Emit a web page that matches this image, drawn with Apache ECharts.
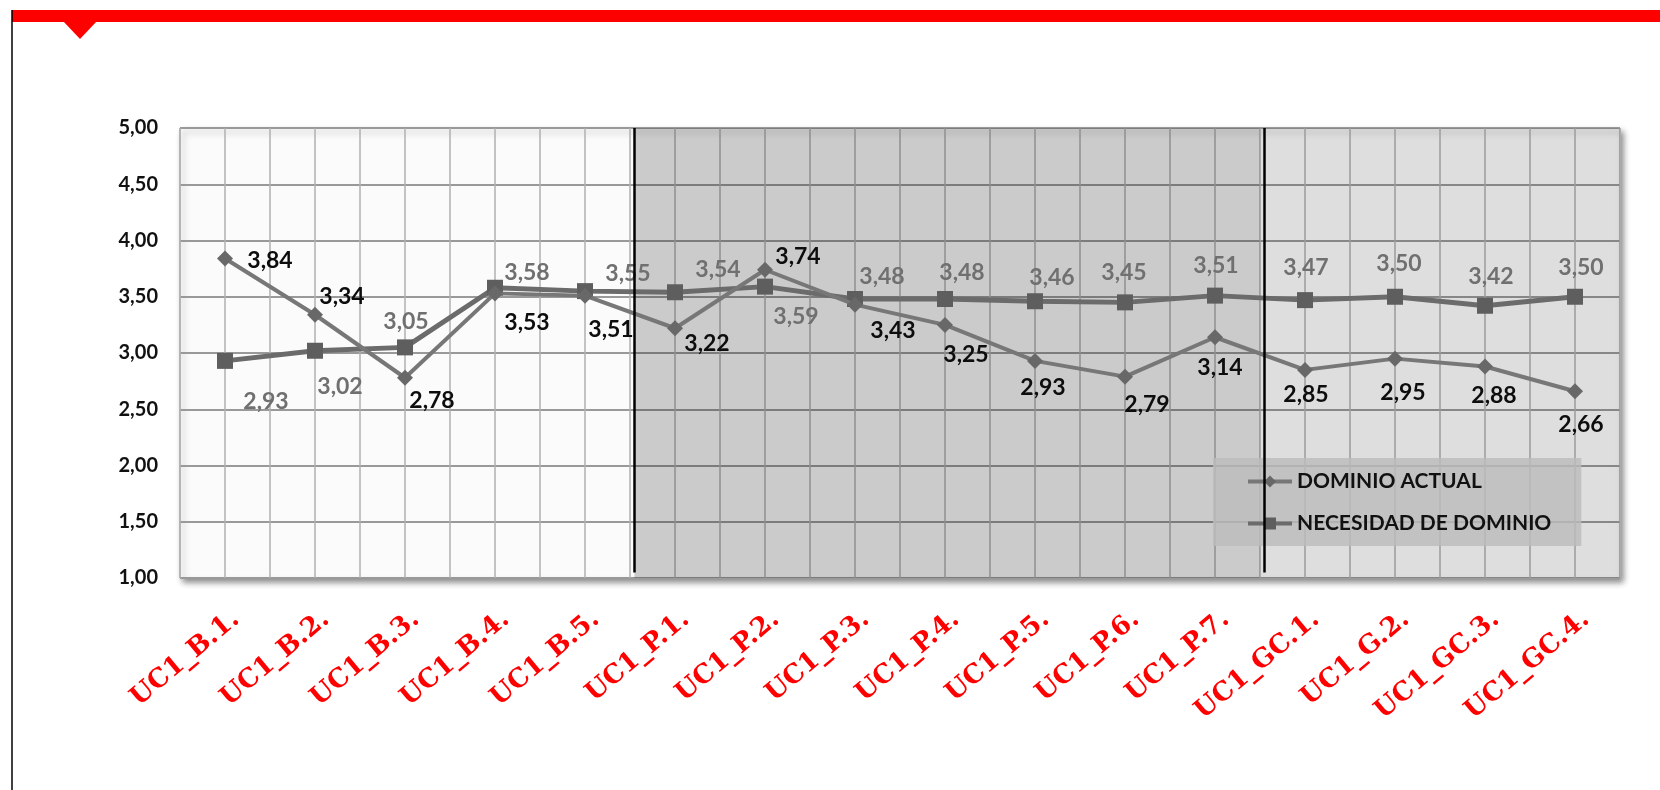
<!DOCTYPE html>
<html>
<head>
<meta charset="utf-8">
<title>Dominio actual / necesidad de dominio</title>
<script src="https://cdn.jsdelivr.net/npm/echarts@6/dist/echarts.min.js"></script>
<style>
  html, body { margin: 0; padding: 0; background: #fff; }
  #chart { width: 1660px; height: 790px; }
</style>
</head>
<body>
<div id="chart"></div>
<script>
const categories = ['UC1_B.1.', 'UC1_B.2.', 'UC1_B.3.', 'UC1_B.4.', 'UC1_B.5.', 'UC1_P.1.', 'UC1_P.2.', 'UC1_P.3.',
  'UC1_P.4.', 'UC1_P.5.', 'UC1_P.6.', 'UC1_P.7.', 'UC1_GC.1.', 'UC1_G.2.', 'UC1_GC.3.', 'UC1_GC.4.'];
const dominioActual = [3.84, 3.34, 2.78, 3.53, 3.51, 3.22, 3.74, 3.43, 3.25, 2.93, 2.79, 3.14, 2.85, 2.95, 2.88, 2.66];
const necesidadDominio = [2.93, 3.02, 3.05, 3.58, 3.55, 3.54, 3.59, 3.48, 3.48, 3.46, 3.45, 3.51, 3.47, 3.50, 3.42, 3.50];
const yMin = 1, yMax = 5, yStep = 0.5;
// bloques B / P / GC, en unidades de categoria
const bloqueP = [5.05, 12];
const bloqueGC = [12, 16];
const separadores = [5.05, 12.05];

// label position relative to its marker, px
const actualOffsets = [[45, 2], [27, -18], [27, 23], [32, 29], [26, 34], [32, 15], [33, -13], [38, 26],
  [21, 30], [8, 27], [22, 28], [5, 30], [1, 25], [8, 34], [9, 29], [6, 33]];
const necesidadOffsets = [[41, 41], [25, 36], [1, -26], [32, -15], [43, -18], [43, -23], [31, 30], [27, -22],
  [17, -26], [17, -24], [-1, -30], [1, -30], [1, -33], [4, -33], [6, -29], [6, -29]];

const fmt = v => v.toFixed(2).replace('.', ',');
const withOffsets = (values, offsets) => values.map((v, i) => ({ value: v, label: { offset: offsets[i] } }));

const chart = echarts.init(document.getElementById('chart'));

chart.setOption({
  backgroundColor: '#fff',
  animation: false,
  graphic: [
    { type: 'rect', shape: { x: 12, y: 10, width: 1648, height: 12 }, style: { fill: '#ff0000' } },
    { type: 'polygon', shape: { points: [[63, 21], [97, 21], [80, 39]] }, style: { fill: '#ff0000' } },
    { type: 'line', shape: { x1: 12, y1: 10, x2: 12, y2: 790 }, style: { stroke: '#000', lineWidth: 1.5 } }
  ],
  legend: {
    orient: 'vertical',
    left: 1213,
    top: 458,
    padding: [13, 30, 12, 33],
    itemGap: 21,
    itemWidth: 44,
    itemHeight: 15,
    backgroundColor: 'rgba(188,188,188,0.82)',
    lineStyle: { width: 4 },
    textStyle: { fontFamily: 'Lato', fontWeight: 'bold', fontSize: 21, color: '#111' },
    data: ['DOMINIO ACTUAL', 'NECESIDAD DE DOMINIO']
  },
  grid: [
    {
      left: 180, top: 128, width: 1440, height: 450,
      show: true,
      backgroundColor: '#fbfbfb',
      borderColor: '#999',
      borderWidth: 1,
      shadowColor: 'rgba(0,0,0,0.45)',
      shadowBlur: 6,
      shadowOffsetX: 3,
      shadowOffsetY: 4
    },
    // only used to place the rotated category labels
    { left: 191, top: 128, width: 1440, height: 450 }
  ],
  xAxis: [
    {
      type: 'category', gridIndex: 0, data: categories, boundaryGap: true,
      axisLine: { show: false }, axisTick: { show: false }, axisLabel: { show: false }, splitLine: { show: false }
    },
    {
      type: 'value', gridIndex: 0, min: 0, max: 16, interval: 0.5,
      axisLine: { show: false }, axisTick: { show: false }, axisLabel: { show: false },
      splitLine: { show: true, lineStyle: { color: '#b0b0b0', width: 1.5 } }
    },
    {
      type: 'category', gridIndex: 1, data: categories, boundaryGap: true, position: 'bottom',
      axisLine: { show: false }, axisTick: { show: false }, splitLine: { show: false },
      axisLabel: {
        interval: 0, rotate: 40, margin: 38,
        color: '#ff0000', fontFamily: 'DejaVu Serif', fontWeight: 'bold', fontSize: 26
      }
    }
  ],
  yAxis: [
    {
      type: 'value', gridIndex: 0, min: yMin, max: yMax, interval: yStep,
      axisLine: { show: false }, axisTick: { show: false },
      axisLabel: {
        margin: 22, formatter: v => fmt(v),
        color: '#111', fontFamily: 'Lato', fontWeight: 'bold', fontSize: 20
      },
      splitLine: { show: true, lineStyle: { color: '#999', width: 2 } }
    },
    { type: 'value', gridIndex: 1, show: false, min: yMin, max: yMax }
  ],
  series: [
    {
      name: 'bloques',
      type: 'line',
      xAxisIndex: 1,
      yAxisIndex: 0,
      data: [],
      silent: true,
      markArea: {
        silent: true,
        data: [
          [{ xAxis: bloqueP[0], itemStyle: { color: 'rgba(0,0,0,0.19)' } }, { xAxis: bloqueP[1] }],
          [{ xAxis: bloqueGC[0], itemStyle: { color: 'rgba(0,0,0,0.115)' } }, { xAxis: bloqueGC[1] }]
        ]
      },
      markLine: {
        silent: true,
        symbol: 'none',
        label: { show: false },
        lineStyle: { color: '#000', width: 2.5, type: 'solid' },
        data: separadores.map(x => [{ coord: [x, yMin + 0.05] }, { coord: [x, yMax] }])
      }
    },
    {
      name: 'DOMINIO ACTUAL',
      type: 'line',
      xAxisIndex: 0,
      yAxisIndex: 0,
      data: withOffsets(dominioActual, actualOffsets),
      symbol: 'diamond',
      symbolSize: 16,
      lineStyle: { color: '#777', width: 4 },
      itemStyle: { color: '#686868' },
      label: {
        show: true, position: 'inside', formatter: p => fmt(p.value),
        fontFamily: 'Lato', fontWeight: 'bold', fontSize: 23, color: '#0d0d0d'
      },
      z: 3
    },
    {
      name: 'NECESIDAD DE DOMINIO',
      type: 'line',
      xAxisIndex: 0,
      yAxisIndex: 0,
      data: withOffsets(necesidadDominio, necesidadOffsets),
      symbol: 'rect',
      symbolSize: 16,
      lineStyle: { color: '#6b6b6b', width: 5 },
      itemStyle: { color: '#5e5e5e' },
      label: {
        show: true, position: 'inside', formatter: p => fmt(p.value),
        fontFamily: 'Lato', fontWeight: 'bold', fontSize: 23, color: '#707070'
      },
      z: 2
    }
  ]
});
</script>
</body>
</html>
